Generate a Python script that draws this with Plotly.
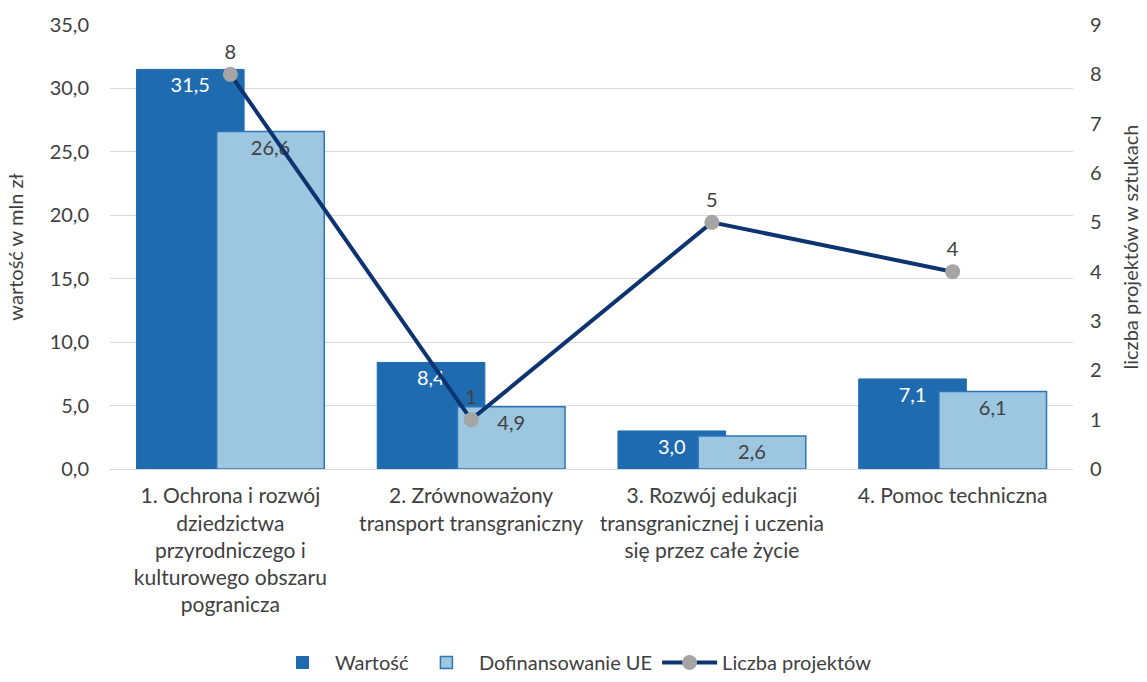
import plotly.graph_objects as go

categories = [
    "1. Ochrona i rozwój<br>dziedzictwa<br>przyrodniczego i<br>kulturowego obszaru<br>pogranicza",
    "2. Zrównoważony<br>transport transgraniczny",
    "3. Rozwój edukacji<br>transgranicznej i uczenia<br>się przez całe życie",
    "4. Pomoc techniczna",
]
wartosc = [31.5, 8.4, 3.0, 7.1]
dofinansowanie = [26.6, 4.9, 2.6, 6.1]
liczba = [8, 1, 5, 4]

FONT = "Lato"
FS = 20
def fmt(v):
    return f"{v:.1f}".replace(".", ",")

fig = go.Figure()
fig.add_trace(go.Bar(
    x=categories, y=wartosc, name="Wartość",
    marker=dict(color="#1F6BB0", line=dict(color="#1F6BB0", width=1)),
    width=0.447, offset=-0.39,
    text=[fmt(v) for v in wartosc], textposition="inside", insidetextanchor="end",
    textfont=dict(color="white", size=FS, family=FONT), textangle=0,
))
fig.add_trace(go.Bar(
    x=categories, y=dofinansowanie, name="Dofinansowanie UE",
    marker=dict(color="#9DC6E0", line=dict(color="#2E75B6", width=1.5)),
    width=0.447, offset=-0.057,
    text=[fmt(v) for v in dofinansowanie], textposition="inside", insidetextanchor="end",
    textfont=dict(color="#404040", size=FS, family=FONT), textangle=0,
))
fig.add_trace(go.Scatter(
    x=categories, y=liczba, name="Liczba projektów", yaxis="y2",
    mode="lines+markers+text",
    line=dict(color="#0D3370", width=4),
    marker=dict(color="#A5A5A5", size=15),
    text=[str(v) for v in liczba], textposition="top center",
    textfont=dict(color="#404040", size=FS, family=FONT),
))

fig.update_layout(
    width=1147, height=682,
    barmode="overlay",
    plot_bgcolor="white", paper_bgcolor="white",
    margin=dict(l=110, r=74, t=25, b=213, autoexpand=False),
    font=dict(family=FONT, size=FS, color="#404040"),
    showlegend=True,
    legend=dict(orientation="h", x=0.5, xanchor="center", xref="container",
                y=-0.01, yanchor="bottom", yref="container",
                font=dict(size=FS, family=FONT, color="#404040"), traceorder="normal",
                itemwidth=55, tracegroupgap=0),
    xaxis=dict(showgrid=False, tickfont=dict(size=21), ticks="", automargin=False,
               ticklabelstandoff=8,
               showline=True, linecolor="#D9D9D9", linewidth=1),
    yaxis=dict(range=[0, 35], dtick=5, tickformat=".1f", showgrid=True, gridcolor="#D9D9D9",
               gridwidth=1.3, zeroline=False, automargin=False, ticklabelstandoff=20,
               title=dict(text="wartość w mln zł", font=dict(size=FS), standoff=20),
               tickfont=dict(size=FS)),
    yaxis2=dict(range=[0, 9], dtick=1, overlaying="y", side="right", showgrid=False,
                zeroline=False, tickfont=dict(size=FS), automargin=False, ticklabelstandoff=16,
                title=dict(text="liczba projektów w sztukach", font=dict(size=FS), standoff=22)),
    separators=", ",
    uniformtext=dict(minsize=16, mode="show"),
)

fig.write_html("out.html", config={"displayModeBar": False},
               post_script="document.body.style.margin='0';document.body.style.overflow='hidden';")
